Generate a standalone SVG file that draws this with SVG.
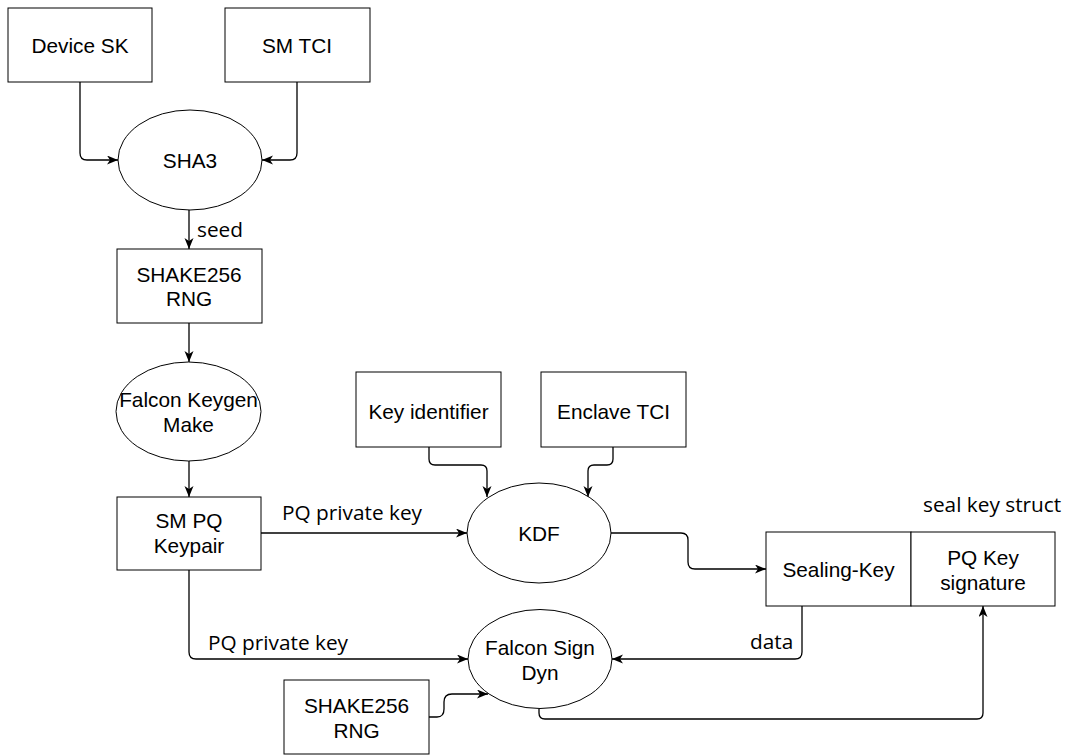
<svg xmlns="http://www.w3.org/2000/svg" width="1074" height="755" viewBox="0 0 1074 755">
<style>
.n{fill:#fff;stroke:#000;stroke-width:1}
.t{font-family:"Liberation Sans",Arial,sans-serif;font-size:20.8px;fill:#000;text-anchor:middle}
.l{font-family:"Open Sans","Noto Sans",sans-serif;font-size:20.8px;fill:#000}
.c{fill:none;stroke:#000;stroke-width:1.3}
</style>
<defs>
<marker id="a" markerUnits="userSpaceOnUse" markerWidth="12" markerHeight="10" refX="11" refY="4.5" orient="auto">
<path d="M0,0 L11,4.5 L0,9 L3,4.5 z" fill="#000"/>
</marker>
</defs>
<rect width="1074" height="755" fill="#fff"/>
<g id="connectors">
<path class="c" marker-end="url(#a)" d="M80 82 L80 153 Q80 160 87 160 L118 160"/>
<path class="c" marker-end="url(#a)" d="M297 82 L297 153 Q297 160 290 160 L262 160"/>
<path class="c" marker-end="url(#a)" d="M189 210 L189 249"/>
<path class="c" marker-end="url(#a)" d="M189 323 L189 362"/>
<path class="c" marker-end="url(#a)" d="M189 461 L189 497"/>
<path class="c" marker-end="url(#a)" d="M429 447 L429 459 Q429 465 435 465 L481 465 Q487 465 487 471 L487 497"/>
<path class="c" marker-end="url(#a)" d="M613 447 L613 459 Q613 465 607 465 L594 465 Q588 465 588 471 L588 497"/>
<path class="c" marker-end="url(#a)" d="M261 533 L467 533"/>
<path class="c" marker-end="url(#a)" d="M611 533 L681 533 Q688 533 688 540 L688 562 Q688 569 695 569 L766 569"/>
<path class="c" marker-end="url(#a)" d="M189 570 L189 652 Q189 659 196 659 L468 659"/>
<path class="c" marker-end="url(#a)" d="M802 606 L802 652 Q802 659 795 659 L612 659"/>
<path class="c" marker-end="url(#a)" d="M429 717 L437 717 Q444 717 444 709 L444 702 Q444 694 452 694 L488 694"/>
<path class="c" marker-end="url(#a)" d="M539 709 L539 713 Q539 719 545 719 L977 719 Q983 719 983 713 L983 606"/>
<text class="l" x="197" y="237">seed</text>
<text class="l" x="282" y="520">PQ private key</text>
<text class="l" x="208" y="650">PQ private key</text>
<text class="l" x="750" y="649">data</text>
<text class="l" x="923" y="512">seal key struct</text>
</g>
<g id="device-sk"><rect class="n" x="8" y="8" width="144" height="74"/><text class="t" x="80" y="53">Device SK</text></g>
<g id="sm-tci"><rect class="n" x="225" y="8" width="145" height="74"/><text class="t" x="297" y="53">SM TCI</text></g>
<g id="sha3"><ellipse class="n" cx="190" cy="160" rx="72" ry="50"/><text class="t" x="190" y="168">SHA3</text></g>
<g id="shake-rng-1"><rect class="n" x="117" y="249" width="145" height="74"/><text class="t" x="189" y="282">SHAKE256</text><text class="t" x="189" y="306">RNG</text></g>
<g id="falcon-keygen"><ellipse class="n" cx="188.5" cy="411.5" rx="72.5" ry="49.5"/><text class="t" x="188.5" y="407">Falcon Keygen</text><text class="t" x="188.5" y="432">Make</text></g>
<g id="sm-pq-keypair"><rect class="n" x="117" y="497" width="144" height="73"/><text class="t" x="189" y="528">SM PQ</text><text class="t" x="189" y="553">Keypair</text></g>
<g id="key-identifier"><rect class="n" x="356" y="372" width="145" height="75"/><text class="t" x="428.5" y="419">Key identifier</text></g>
<g id="enclave-tci"><rect class="n" x="541" y="372" width="145" height="75"/><text class="t" x="613.5" y="419">Enclave TCI</text></g>
<g id="kdf"><ellipse class="n" cx="539" cy="533" rx="72" ry="50"/><text class="t" x="539" y="541">KDF</text></g>
<g id="sealing-key"><rect class="n" x="766" y="532" width="145" height="74"/><text class="t" x="838.5" y="577">Sealing-Key</text></g>
<g id="pq-key-signature"><rect class="n" x="911" y="532" width="144" height="74"/><text class="t" x="983" y="565">PQ Key</text><text class="t" x="983" y="590">signature</text></g>
<g id="falcon-sign"><ellipse class="n" cx="540" cy="659" rx="72" ry="49.5"/><text class="t" x="540" y="655">Falcon Sign</text><text class="t" x="540" y="680">Dyn</text></g>
<g id="shake-rng-2"><rect class="n" x="284" y="680" width="145" height="74"/><text class="t" x="356.5" y="713">SHAKE256</text><text class="t" x="356.5" y="738">RNG</text></g>
</svg>
